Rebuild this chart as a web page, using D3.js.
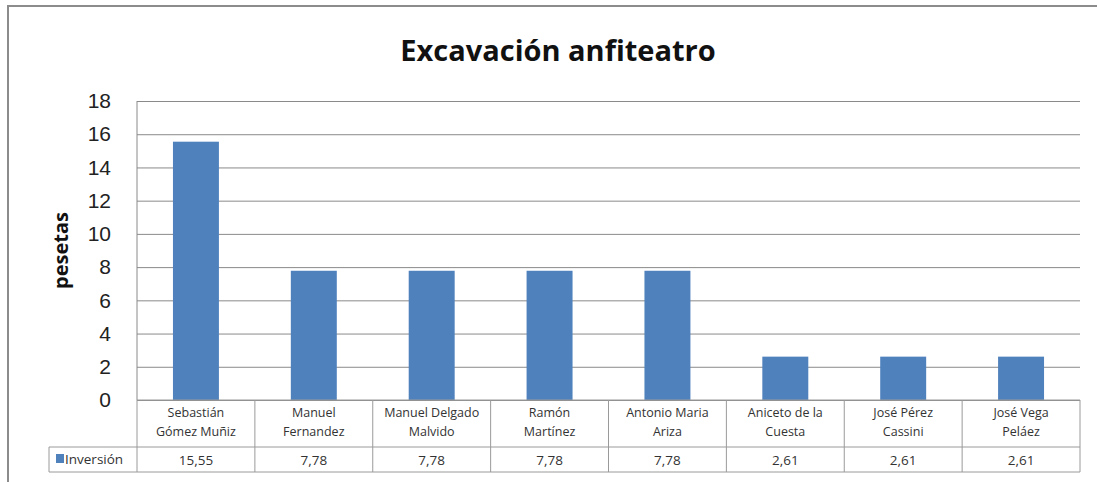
<!DOCTYPE html>
<head>
    <meta charset="utf-8">
    <script src="https://d3js.org/d3.v7.min.js"></script>
    <style>
    body { margin: 0; background: #fff; }
    svg { display: block; font-family: "Open Sans", sans-serif; }
    .grid line { stroke: #8a8a8a; stroke-width: 1; }
    .grid path { display: none; }
    .axis--y path, .axis--y line { display: none; }
    .axis--y text { font-size: 21px; fill: #222; }
    .bar { fill: #4f81bd; }
    .tbl line { stroke: #9a9a9a; stroke-width: 1; }
    .cat { font-size: 12.5px; fill: #333; }
    .val { font-size: 13.5px; fill: #333; }
    </style>
</head>
<body>
<script>
var categories = [
    ["Sebastián", "Gómez Muñiz"],
    ["Manuel", "Fernandez"],
    ["Manuel Delgado", "Malvido"],
    ["Ramón", "Martínez"],
    ["Antonio Maria", "Ariza"],
    ["Aniceto de la", "Cuesta"],
    ["José Pérez", "Cassini"],
    ["José Vega", "Peláez"]
];
var values = [15.55, 7.78, 7.78, 7.78, 7.78, 2.61, 2.61, 2.61];
var yTicks = [0, 2, 4, 6, 8, 10, 12, 14, 16, 18];
var seriesName = "Inversión";

var W = 1097, H = 482;
var margin = { top: 101, right: 17, bottom: 82, left: 137 };
var width = W - margin.left - margin.right;
var height = H - margin.top - margin.bottom;

var svg = d3.select("body").append("svg")
    .attr("width", W)
    .attr("height", H);

// outer frame (only top and left visible)
svg.append("path")
    .attr("d", "M8," + H + "V6H" + W)
    .attr("fill", "none")
    .attr("stroke", "#8c8c8c")
    .attr("stroke-width", 2);

svg.append("text")
    .attr("x", 558)
    .attr("y", 61)
    .attr("text-anchor", "middle")
    .style("font-size", "29px")
    .style("font-weight", "bold")
    .style("fill", "#111")
    .text("Excavación anfiteatro");

var g = svg.append("g")
    .attr("transform", "translate(" + margin.left + "," + margin.top + ")");

var idx = categories.map(function(d, i) { return i; });

var x = d3.scaleBand()
    .domain(idx)
    .range([0, width])
    .paddingInner(0.61)
    .paddingOuter(0.305);

var xCol = d3.scaleBand()
    .domain(idx)
    .range([0, width]);

var y = d3.scaleLinear()
    .domain([0, 18])
    .range([height, 0]);

g.append("g")
    .attr("class", "grid")
    .call(d3.axisLeft(y).tickValues(yTicks).tickSize(-width).tickFormat(""));

g.append("g")
    .attr("class", "axis--y")
    .attr("transform", "translate(-26,0)")
    .call(d3.axisLeft(y).tickValues(yTicks).tickSize(0).tickPadding(0));

// y axis line
g.append("line")
    .attr("x1", 0).attr("x2", 0)
    .attr("y1", y(18)).attr("y2", y(0))
    .attr("stroke", "#8a8a8a");

g.selectAll(".bar")
    .data(values)
    .enter().append("rect")
    .attr("class", "bar")
    .attr("x", function(d, i) { return x(i); })
    .attr("width", x.bandwidth())
    .attr("y", function(d) { return y(d); })
    .attr("height", function(d) { return y(0) - y(d); });

svg.append("text")
    .attr("transform", "translate(68," + (margin.top + height / 2) + ") rotate(-90)")
    .attr("text-anchor", "middle")
    .style("font-size", "20px")
    .style("font-weight", "bold")
    .style("fill", "#111")
    .text("pesetas");

// data table
var row1 = 47, row2 = 72;
var tbl = g.append("g").attr("class", "tbl").attr("transform", "translate(0," + height + ")");

tbl.append("line").attr("x1", 0).attr("x2", width).attr("y1", 0).attr("y2", 0);
tbl.append("line").attr("x1", -88).attr("x2", width).attr("y1", row1).attr("y2", row1);
tbl.append("line").attr("x1", -88).attr("x2", width).attr("y1", row2).attr("y2", row2);
tbl.append("line").attr("x1", -88).attr("x2", -88).attr("y1", row1).attr("y2", row2);

tbl.selectAll(".vline")
    .data(idx.concat([idx.length]))
    .enter().append("line")
    .attr("class", "vline")
    .attr("x1", function(i) { return i < idx.length ? xCol(i) : width; })
    .attr("x2", function(i) { return i < idx.length ? xCol(i) : width; })
    .attr("y1", 0)
    .attr("y2", row2);

tbl.selectAll(".cat")
    .data(categories)
    .enter().append("text")
    .attr("class", "cat")
    .attr("text-anchor", "middle")
    .attr("x", function(d, i) { return xCol(i) + xCol.bandwidth() / 2; })
    .attr("y", 17)
    .selectAll("tspan")
    .data(function(d) { return d; })
    .enter().append("tspan")
    .attr("x", function() { return d3.select(this.parentNode).attr("x"); })
    .attr("dy", function(d, j) { return j ? 19 : 0; })
    .text(function(d) { return d; });

tbl.selectAll(".val")
    .data(values)
    .enter().append("text")
    .attr("class", "val")
    .attr("text-anchor", "middle")
    .attr("x", function(d, i) { return xCol(i) + xCol.bandwidth() / 2; })
    .attr("y", 65)
    .text(function(d) { return d.toFixed(2).replace(".", ","); });

tbl.append("rect")
    .attr("x", -81).attr("y", 54)
    .attr("width", 8).attr("height", 9)
    .attr("fill", "#4f81bd");

tbl.append("text")
    .attr("class", "val")
    .attr("x", -72)
    .attr("y", 64)
    .style("font-size", "13.5px")
    .text(seriesName);
</script>
</body>
